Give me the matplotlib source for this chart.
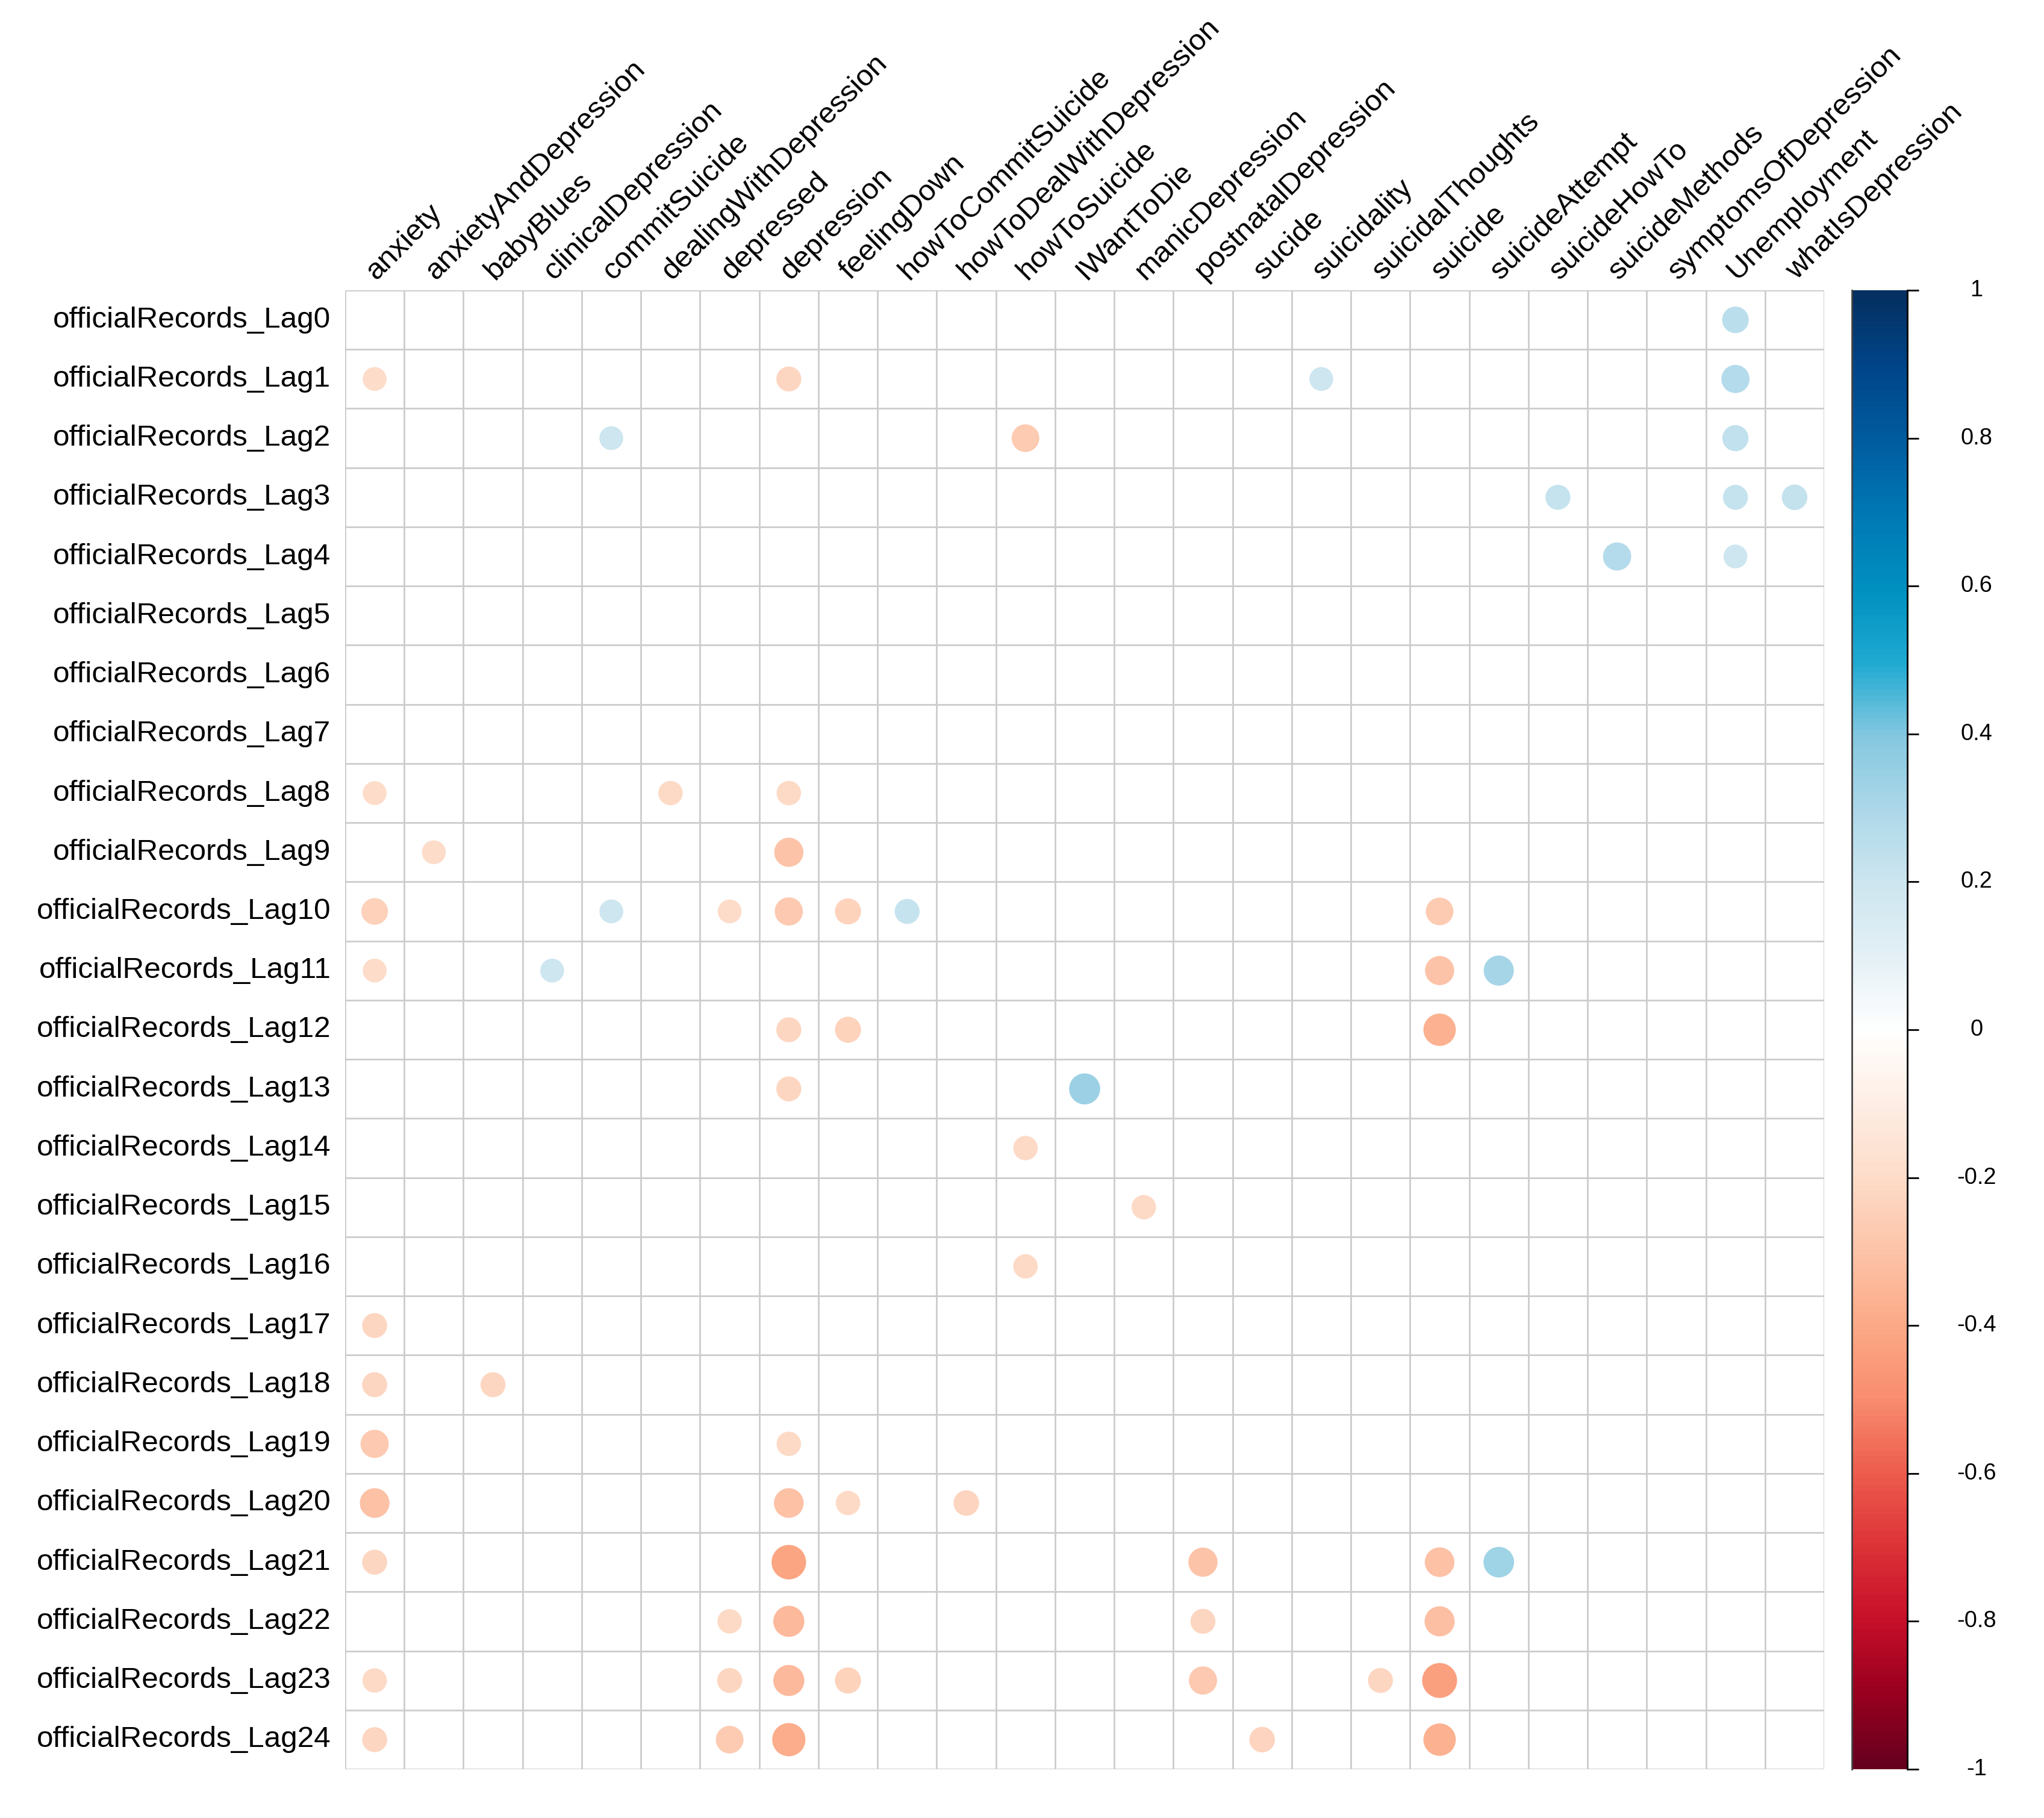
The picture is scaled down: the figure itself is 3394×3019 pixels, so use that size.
import numpy as np
import matplotlib
matplotlib.use("Agg")
import matplotlib.pyplot as plt
from matplotlib.patches import Circle
from matplotlib.colors import LinearSegmentedColormap, to_rgb
from matplotlib.transforms import blended_transform_factory

plt.rcParams['font.family'] = ['Liberation Sans', 'DejaVu Sans']

columns = ["anxiety", "anxietyAndDepression", "babyBlues", "clinicalDepression",
           "commitSuicide", "dealingWithDepression", "depressed", "depression",
           "feelingDown", "howToCommitSuicide", "howToDealWithDepression",
           "howToSuicide", "IWantToDie", "manicDepression", "postnatalDepression",
           "sucide", "suicidality", "suicidalThoughts", "suicide", "suicideAttempt",
           "suicideHowTo", "suicideMethods", "symptomsOfDepression", "Unemployment",
           "whatIsDepression"]
rows = ["officialRecords_Lag%d" % i for i in range(25)]

# significant correlations: (lag, column, value)
cell_lag = [0,
            1, 1, 1, 1,
            2, 2, 2,
            3, 3, 3,
            4, 4,
            8, 8, 8,
            9, 9,
            10, 10, 10, 10, 10, 10, 10,
            11, 11, 11, 11,
            12, 12, 12,
            13, 13,
            14, 15, 16, 17,
            18, 18,
            19, 19,
            20, 20, 20, 20,
            21, 21, 21, 21, 21,
            22, 22, 22, 22,
            23, 23, 23, 23, 23, 23, 23,
            24, 24, 24, 24, 24]
cell_col = ["Unemployment",
            "anxiety", "depression", "suicidality", "Unemployment",
            "commitSuicide", "howToSuicide", "Unemployment",
            "suicideHowTo", "Unemployment", "whatIsDepression",
            "suicideMethods", "Unemployment",
            "anxiety", "dealingWithDepression", "depression",
            "anxietyAndDepression", "depression",
            "anxiety", "commitSuicide", "depressed", "depression", "feelingDown",
            "howToCommitSuicide", "suicide",
            "anxiety", "clinicalDepression", "suicide", "suicideAttempt",
            "depression", "feelingDown", "suicide",
            "depression", "IWantToDie",
            "howToSuicide", "manicDepression", "howToSuicide", "anxiety",
            "anxiety", "babyBlues",
            "anxiety", "depression",
            "anxiety", "depression", "feelingDown", "howToDealWithDepression",
            "anxiety", "depression", "postnatalDepression", "suicide", "suicideAttempt",
            "depressed", "depression", "postnatalDepression", "suicide",
            "anxiety", "depressed", "depression", "feelingDown", "postnatalDepression",
            "suicidalThoughts", "suicide",
            "anxiety", "depressed", "depression", "sucide", "suicide"]
cell_val = [0.25,
            -0.20, -0.22, 0.20, 0.28,
            0.20, -0.27, 0.24,
            0.22, 0.22, 0.23,
            0.28, 0.20,
            -0.20, -0.21, -0.21,
            -0.20, -0.30,
            -0.25, 0.20, -0.20, -0.28, -0.24, 0.22, -0.27,
            -0.20, 0.20, -0.30, 0.32,
            -0.22, -0.24, -0.37,
            -0.22, 0.34,
            -0.21, -0.21, -0.21, -0.22,
            -0.22, -0.22,
            -0.28, -0.21,
            -0.31, -0.31, -0.21, -0.23,
            -0.22, -0.42, -0.30, -0.31, 0.33,
            -0.21, -0.34, -0.22, -0.32,
            -0.21, -0.22, -0.34, -0.24, -0.28, -0.22, -0.43,
            -0.22, -0.27, -0.39, -0.23, -0.37]

cbar_ticks = [1, 0.8, 0.6, 0.4, 0.2, 0, -0.2, -0.4, -0.6, -0.8, -1]
cbar_labels = ["1", "0.8", "0.6", "0.4", "0.2", "0", "-0.2", "-0.4", "-0.6", "-0.8", "-1"]

# colormap resembling the rendered corrplot RdBu palette
anchor_pos = [-1, -0.9, -0.8, -0.7, -0.6, -0.5, -0.4, -0.3, -0.2, -0.1, 0,
              0.1, 0.2, 0.3, 0.4, 0.5, 0.6, 0.7, 0.8, 0.9, 1]
anchor_col = ["#67001F", "#9A0020", "#C8102A", "#DD3438", "#EE5E4E", "#F98E70",
              "#FCAA87", "#FDC4A9", "#FDDCC9", "#FEEEE5", "#FFFFFF",
              "#E4F0F6", "#CDE6F0", "#ADD8E9", "#84C8E0", "#1FAAD2", "#0090C0",
              "#0079B5", "#005DA0", "#00468A", "#053061"]
cmap = LinearSegmentedColormap.from_list(
    "corr", [((p + 1) / 2, to_rgb(c)) for p, c in zip(anchor_pos, anchor_col)], N=256)

W, H, DPI = 3394, 3019, 200
fig = plt.figure(figsize=(W / DPI, H / DPI), dpi=DPI)
fig.patch.set_facecolor("white")

gx0, gy0, gsz = 573, 482, 2456
ax = fig.add_axes([gx0 / W, 1 - (gy0 + gsz) / H, gsz / W, gsz / H])
n_r, n_c = len(rows), len(columns)
ax.set_xlim(0, n_c)
ax.set_ylim(n_r, 0)
ax.set_aspect("equal")
ax.axis("off")

grid_c = "#CCCCCC"
for k in range(n_c + 1):
    ax.plot([k, k], [0, n_r], color=grid_c, lw=1.0, solid_capstyle="butt", zorder=1)
for k in range(n_r + 1):
    ax.plot([0, n_c], [k, k], color=grid_c, lw=1.0, solid_capstyle="butt", zorder=1)

for lag, col, v in zip(cell_lag, cell_col, cell_val):
    j = columns.index(col)
    c = cmap((v + 1) / 2)
    ax.add_patch(Circle((j + 0.5, lag + 0.5), 0.45 * np.sqrt(abs(v)),
                        facecolor=c, edgecolor="none", zorder=2))

for i, name in enumerate(rows):
    ax.text(-0.24, i + 0.5, name, ha="right", va="center", fontsize=17.8,
            color="black", clip_on=False)
for j, name in enumerate(columns):
    ax.text(j + 0.53, -0.16, name, ha="left", va="baseline", rotation=45,
            rotation_mode="anchor", fontsize=17.8, color="black", clip_on=False)

# colorbar
cx0, cw = 3075, 92
cax = fig.add_axes([cx0 / W, 1 - (gy0 + gsz) / H, cw / W, gsz / H])
grad = np.linspace(1, -1, 400).reshape(-1, 1)
cax.imshow(grad, cmap=cmap, vmin=-1, vmax=1, aspect="auto",
           extent=[0, 1, -1, 1], interpolation="bilinear")
cax.set_xlim(0, 1)
cax.set_ylim(-1, 1)
cax.set_xticks([])
for s in ["top", "bottom"]:
    cax.spines[s].set_visible(False)
cax.spines["left"].set_color("#444444")
cax.spines["left"].set_linewidth(1.0)
cax.spines["right"].set_color("black")
cax.spines["right"].set_linewidth(1.0)
cax.yaxis.tick_right()
cax.set_yticks(cbar_ticks)
cax.set_yticklabels([])
cax.tick_params(axis="y", direction="out", length=6.8, width=1.0, color="black")
tr = blended_transform_factory(fig.transFigure, cax.transData)
for t, lab in zip(cbar_ticks, cbar_labels):
    fig.text(3282 / W, t, lab, transform=tr, ha="center", va="center",
             fontsize=13.7, color="black")

fig.savefig("out.png", dpi=DPI, facecolor="white")
